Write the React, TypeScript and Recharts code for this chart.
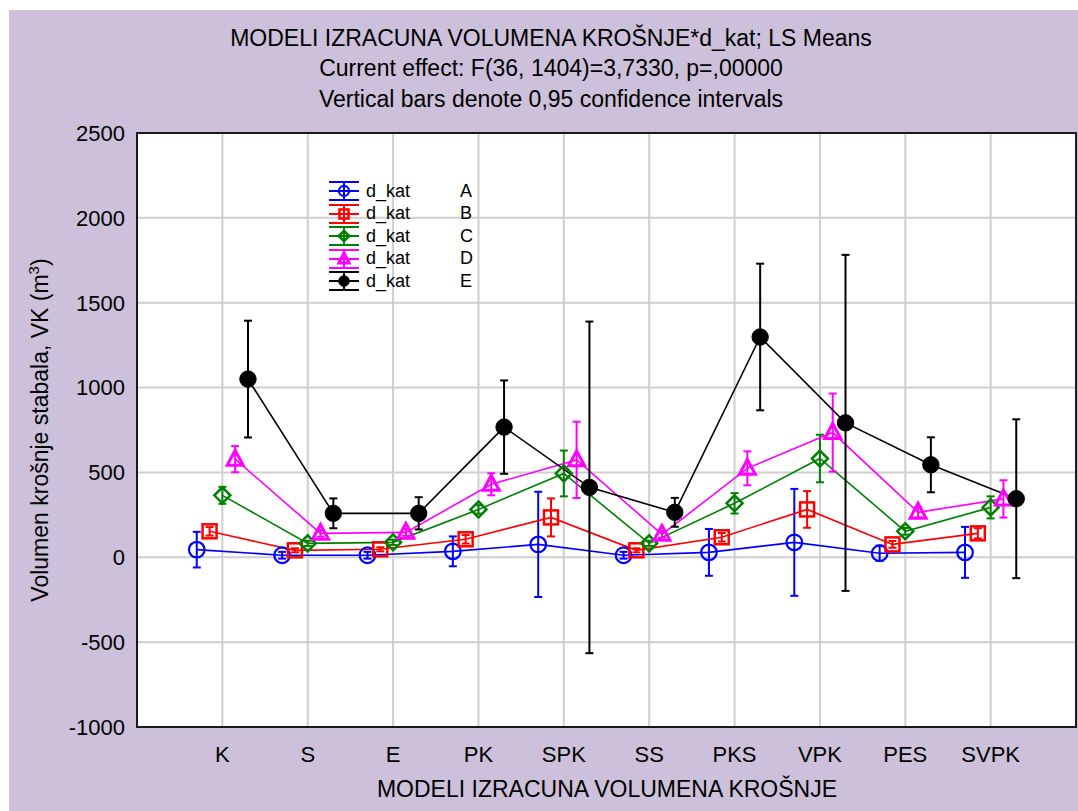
import React from 'react';
import { ComposedChart, Line, XAxis, YAxis, CartesianGrid, ErrorBar } from 'recharts';

const categories = ['K', 'S', 'E', 'PK', 'SPK', 'SS', 'PKS', 'VPK', 'PES', 'SVPK'];
const groupNames = ['A', 'B', 'C', 'D', 'E'];

// LS means per d_kat group and the half-width of the 0,95 confidence interval
const meansA = [45, 12, 12, 35, 76, 12, 29, 88, 24, 29];
const errA = [105, 20, 20, 88, 310, 20, 138, 315, 45, 150];
const meansB = [153, 41, 47, 106, 235, 41, 118, 282, 76, 141];
const errB = [25, 12, 12, 25, 112, 12, 25, 108, 20, 30];
const meansC = [365, 82, 88, 282, 494, 82, 318, 582, 153, 294];
const errC = [50, 15, 15, 25, 135, 15, 60, 140, 20, 65];
const meansD = [578, 141, 147, 430, 574, 135, 524, 735, 265, 344];
const errD = [77, 20, 20, 65, 225, 20, 100, 230, 30, 110];
const meansE = [1050, 259, 259, 767, 412, 265, 1298, 792, 545, 345];
const errE = [344, 88, 95, 275, 977, 85, 432, 990, 162, 468];

const yTicks = [-1000, -500, 0, 500, 1000, 1500, 2000, 2500];
const xTicks = [1, 2, 3, 4, 5, 6, 7, 8, 9, 10];

const FONT = '"Liberation Sans", Arial, sans-serif';
const colors = ['#0000ff', '#ff0000', '#008000', '#ff00ff', '#000000'];
const offsets = [-0.3, -0.15, 0, 0.15, 0.3];

const makeSeries = (means: number[], errs: number[], offset: number) =>
  categories.map((name, i) => ({ name, x: i + 1 + offset, y: means[i], err: errs[i] }));

const series = [
  makeSeries(meansA, errA, offsets[0]),
  makeSeries(meansB, errB, offsets[1]),
  makeSeries(meansC, errC, offsets[2]),
  makeSeries(meansD, errD, offsets[3]),
  makeSeries(meansE, errE, offsets[4]),
];

const Marker = ({ idx, cx, cy, s = 1 }: { idx: number; cx: number; cy: number; s?: number }) => {
  const c = colors[idx];
  if (idx === 0) return <circle cx={cx} cy={cy} r={7.8 * s} fill="none" stroke={c} strokeWidth={2.2} />;
  if (idx === 1) return <rect x={cx - 7 * s} y={cy - 7 * s} width={14 * s} height={14 * s} fill="none" stroke={c} strokeWidth={2.5} />;
  if (idx === 2)
    return (
      <polygon
        points={`${cx},${cy - 8 * s} ${cx + 8 * s},${cy} ${cx},${cy + 8 * s} ${cx - 8 * s},${cy}`}
        fill="none"
        stroke={c}
        strokeWidth={2.5}
      />
    );
  if (idx === 3)
    return (
      <polygon
        points={`${cx},${cy - 9 * s} ${cx + 8 * s},${cy + 6 * s} ${cx - 8 * s},${cy + 6 * s}`}
        fill="none"
        stroke={c}
        strokeWidth={3}
      />
    );
  return <circle cx={cx} cy={cy} r={8.2 * s} fill="#000" stroke="#000" strokeWidth={1} />;
};

const LegendBox = () => (
  <div
    style={{
      position: 'absolute',
      left: 320,
      top: 170,
      fontFamily: FONT,
      fontSize: 18,
      color: '#000',
      zIndex: 3,
      pointerEvents: 'none',
    }}
  >
    {groupNames.map((g, i) => (
      <div key={g} style={{ display: 'flex', alignItems: 'center', height: 22.5 }}>
        <svg width={30} height={22} style={{ display: 'block' }}>
          <line x1={0} y1={2} x2={30} y2={2} stroke={colors[i]} strokeWidth={2} />
          <line x1={0} y1={20} x2={30} y2={20} stroke={colors[i]} strokeWidth={2} />
          <line x1={0} y1={11} x2={30} y2={11} stroke={colors[i]} strokeWidth={2} />
          <line x1={15} y1={2} x2={15} y2={20} stroke={colors[i]} strokeWidth={2} />
          <Marker idx={i} cx={15} cy={11} s={0.65} />
        </svg>
        <span style={{ display: 'inline-block', width: 94, marginLeft: 7 }}>d_kat</span>
        <span>{g}</span>
      </div>
    ))}
  </div>
);

const tickStyle = { fontSize: 22, fontFamily: FONT, fill: '#000' };

export default function App() {
  return (
    <div style={{ position: 'absolute', left: 9, top: 10, width: 1069, height: 801, background: '#ccc0da' }}>
      {/* white plot background, under the chart svg */}
      <div style={{ position: 'absolute', left: 128, top: 123, width: 939, height: 594, background: '#ffffff' }} />
      <div
        style={{
          position: 'absolute',
          left: 0,
          top: 12.5,
          width: 1084,
          textAlign: 'center',
          fontFamily: FONT,
          fontSize: 23,
          lineHeight: '30.5px',
          color: '#000',
          pointerEvents: 'none',
          zIndex: 2,
        }}
      >
        <div>MODELI IZRACUNA VOLUMENA KROŠNJE*d_kat; LS Means</div>
        <div>Current effect: F(36, 1404)=3,7330, p=,00000</div>
        <div>Vertical bars denote 0,95 confidence intervals</div>
      </div>
      <ComposedChart width={1069} height={801} margin={{ top: 123, right: 2, bottom: 0, left: 0 }}>
        <CartesianGrid stroke="#cfcfcf" strokeWidth={2} />
        <XAxis
          dataKey="x"
          type="number"
          domain={[0, 11]}
          ticks={xTicks}
          interval={0}
          tickFormatter={(v: number) => categories[v - 1] ?? ''}
          tick={tickStyle}
          tickLine={false}
          tickMargin={13}
          stroke="#222"
          height={84}
        />
        <YAxis
          type="number"
          domain={[-1000, 2500]}
          ticks={yTicks}
          interval={0}
          tick={tickStyle}
          tickLine={false}
          tickMargin={6}
          stroke="#222"
          width={128}
        />
        {series.map((data, i) => (
          <Line
            key={groupNames[i]}
            data={data}
            dataKey="y"
            name={`d_kat ${groupNames[i]}`}
            stroke={colors[i]}
            strokeWidth={1.6}
            isAnimationActive={false}
            activeDot={false}
            dot={(p: any) => <Marker key={`${i}-${p.index}`} idx={i} cx={p.cx} cy={p.cy} />}
          >
            <ErrorBar dataKey="err" direction="y" width={4} strokeWidth={2} stroke={colors[i]} />
          </Line>
        ))}
      </ComposedChart>
      {/* plot frame */}
      <div
        style={{
          position: 'absolute',
          left: 127,
          top: 122,
          width: 941,
          height: 596,
          border: '2px solid #1a1a1a',
          boxSizing: 'border-box',
          pointerEvents: 'none',
          zIndex: 2,
        }}
      />
      <LegendBox />
      <div
        style={{
          position: 'absolute',
          left: 31 - 300,
          top: 420 - 15,
          width: 600,
          height: 30,
          lineHeight: '30px',
          textAlign: 'center',
          transform: 'rotate(-90deg)',
          fontFamily: FONT,
          fontSize: 23,
          color: '#000',
          whiteSpace: 'nowrap',
          pointerEvents: 'none',
        }}
      >
        Volumen krošnje stabala, VK (m<span style={{ fontSize: 15, position: 'relative', top: -9 }}>3</span>)
      </div>
      <div
        style={{
          position: 'absolute',
          left: 198,
          top: 764,
          width: 800,
          lineHeight: '30px',
          textAlign: 'center',
          fontFamily: FONT,
          fontSize: 23,
          color: '#000',
          pointerEvents: 'none',
        }}
      >
        MODELI IZRACUNA VOLUMENA KROŠNJE
      </div>
    </div>
  );
}
